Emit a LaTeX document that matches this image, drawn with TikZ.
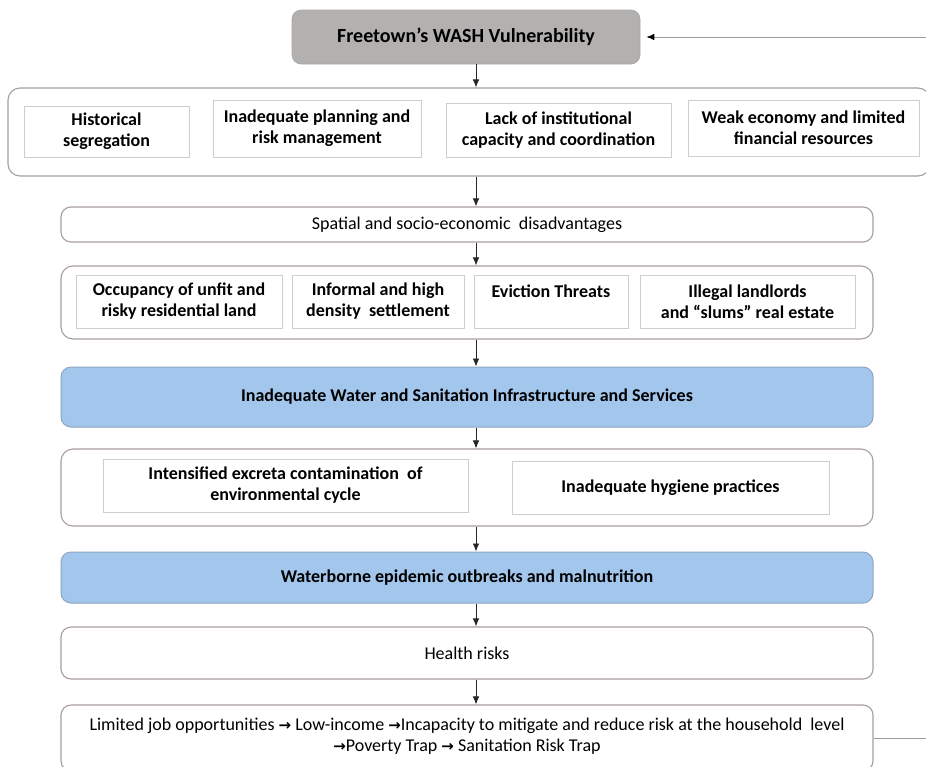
\documentclass[tikz,border=0pt]{standalone}
\usepackage{fontspec}
\setmainfont{Carlito}
\newfontfamily\arrfont{DejaVu Sans}
\usetikzlibrary{arrows.meta,calc}
\definecolor{grpc}{HTML}{A89E9E}
\definecolor{ibc}{HTML}{CFCDCD}
\definecolor{topf}{HTML}{B3B0B0}
\definecolor{bluef}{HTML}{A3C6EC}
\definecolor{blued}{HTML}{8FA6C2}
\definecolor{fbc}{HTML}{A09A9A}
\newcommand{\ra}{{\arrfont\bfseries\fontsize{15}{21}\selectfont →}}
\tikzset{
  base/.style={inner sep=0pt, align=center, font=\fontsize{18}{21.5}\selectfont},
  grp/.style={base, draw=grpc, line width=1.1pt, rounded corners=12pt, fill=white},
  ibox/.style={base, draw=ibc, line width=0.9pt, fill=white, font=\fontsize{18}{21}\selectfont\bfseries},
  wide/.style={base, draw=grpc, line width=1.1pt, rounded corners=10pt, fill=white},
  bluebox/.style={base, draw=blued, line width=1pt, rounded corners=10pt, fill=bluef, font=\fontsize{18}{21.5}\selectfont\bfseries},
  topbox/.style={base, draw=topf!95!black, line width=0.6pt, rounded corners=9pt, fill=topf, font=\fontsize{20}{23}\selectfont\bfseries},
  arr/.style={draw=black!85, line width=0.8pt, -{Latex[length=8pt,width=6.5pt]}},
  fb/.style={draw=fbc, line width=0.9pt, -{Latex[length=8pt,width=6.5pt,fill=black,color=black]}}
}
\begin{document}
\begin{tikzpicture}[x=1pt,y=-1pt]
\useasboundingbox (0,0) rectangle (926,766);
\clip (0,0) rectangle (926,766);
\fill[white] (0,0) rectangle (926,766);
\coordinate (ax) at (476,0);

\node[topbox, minimum width=348pt, minimum height=54pt] (top) at (466,37) {Freetown’s WASH Vulnerability};

\node[grp, minimum width=922pt, minimum height=88pt] (g1) at (469,132) {};
\node[ibox, minimum width=165pt, minimum height=51pt] (b11) at (106.5,131.5) {Historical\\segregation};
\node[ibox, minimum width=208pt, minimum height=57pt] (b12) at (317,128.5) {Inadequate planning and\\risk management};
\node[ibox, minimum width=225pt, minimum height=54pt] (b13) at (558.5,130) {Lack of institutional\\capacity and coordination};
\node[ibox, minimum width=231pt, minimum height=56pt] (b14) at (803.5,128) {Weak economy and limited\\financial resources};

\node[wide, minimum width=812pt, minimum height=35pt] (sp) at (467,224.5) {Spatial and socio-economic\ \ disadvantages};

\node[grp, minimum width=812pt, minimum height=73pt] (g2) at (467,302.5) {};
\node[ibox, minimum width=206pt, minimum height=53pt] (b21) at (179,301.5) {Occupancy of unfit and\\risky residential land};
\node[ibox, minimum width=172pt, minimum height=53pt] (b22) at (378,301.5) {Informal and high\\density\ \ settlement};
\node[ibox, minimum width=154pt, minimum height=53pt] (b23) at (551,301.5) {Eviction Threats\\\mbox{}};
\node[ibox, minimum width=215pt, minimum height=53pt] (b24) at (747.5,301.5) {Illegal landlords\\and “slums” real estate};

\node[bluebox, minimum width=812pt, minimum height=60pt] (wa) at (467,397) {Inadequate Water and Sanitation Infrastructure and Services};

\node[grp, minimum width=812pt, minimum height=77pt] (g3) at (467,487.5) {};
\node[ibox, minimum width=365pt, minimum height=53pt] (b31) at (285.5,485.5) {Intensified excreta contamination\ \ of\\environmental cycle};
\node[ibox, minimum width=317pt, minimum height=53pt] (b32) at (670.5,487.5) {Inadequate hygiene practices};

\node[bluebox, minimum width=812pt, minimum height=51pt] (wb) at (467,577.5) {Waterborne epidemic outbreaks and malnutrition};

\node[wide, minimum width=812pt, minimum height=52pt] (he) at (467,653) {Health risks};

\node[wide, minimum width=812pt, minimum height=66pt] (la) at (467,738) {};
\node[base] (lat) at (467,736) {Limited job opportunities \ra{} Low-income \ra Incapacity to mitigate and reduce risk at the household\ \ level\\\ra Poverty Trap \ra{} Sanitation Risk Trap};

\draw[arr] (top.south -| ax) -- (g1.north -| ax);
\draw[arr] (g1.south -| ax) -- (sp.north -| ax);
\draw[arr] (sp.south -| ax) -- (g2.north -| ax);
\draw[arr] (g2.south -| ax) -- (wa.north -| ax);
\draw[arr] (wa.south -| ax) -- (g3.north -| ax);
\draw[arr] (g3.south -| ax) -- (wb.north -| ax);
\draw[arr] (wb.south -| ax) -- (he.north -| ax);
\draw[arr] (he.south -| ax) -- (la.north -| ax);

\draw[fb, shorten >=6pt] (la.east) -- ++(80,0) coordinate (fbc1) |- (top.east);
\end{tikzpicture}
\end{document}
